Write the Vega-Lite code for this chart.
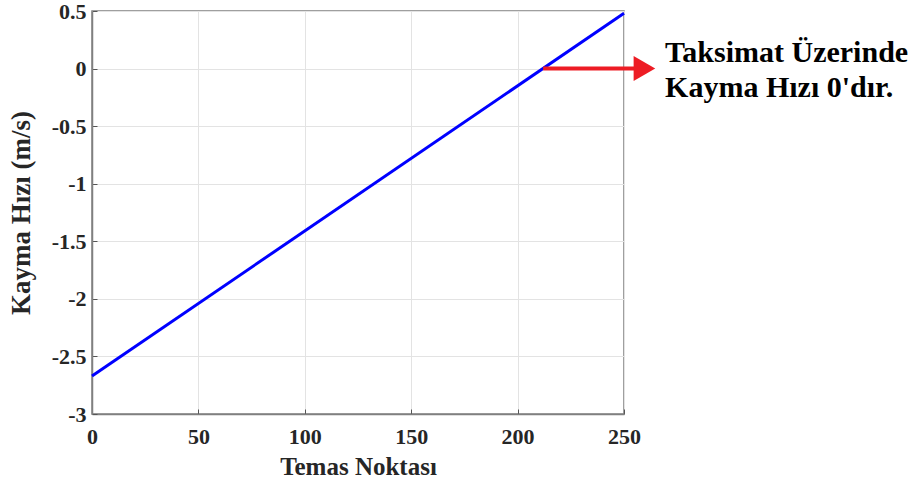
{
  "$schema": "https://vega.github.io/schema/vega-lite/v6.json",
  "width": 532,
  "height": 403,
  "autosize": {"type": "none"},
  "padding": {"left": 92, "top": 11, "right": 298, "bottom": 74},
  "background": "white",
  "config": {
    "font": "Liberation Serif",
    "view": {"stroke": "#808080", "strokeWidth": 1.5},
    "axis": {
      "labelFont": "Liberation Serif",
      "labelFontWeight": "bold",
      "labelFontSize": 22,
      "labelColor": "#262626",
      "labelFlush": false,
      "labelExpr": "'' + datum.value",
      "titleFont": "Liberation Serif",
      "titleFontWeight": "bold",
      "titleColor": "#262626",
      "domainColor": "#808080",
      "domainWidth": 1.5,
      "tickColor": "#555555",
      "tickSize": -5,
      "gridColor": "#e3e3e3",
      "gridWidth": 1
    }
  },
  "datasets": {
    "line": [
      {"x": 0, "y": -2.67},
      {"x": 250, "y": 0.48}
    ],
    "arrow": [
      {"x": 212, "y": 0},
      {"x": 255, "y": 0}
    ],
    "head": [
      {"x": 259.6, "y": 0}
    ],
    "note": [
      {"x": 269.3, "y": 0.057, "t": "Taksimat Üzerinde"},
      {"x": 269.3, "y": -0.247, "t": "Kayma Hızı 0'dır."}
    ]
  },
  "layer": [
    {
      "data": {"name": "line"},
      "mark": {"type": "line", "color": "#0000ff", "strokeWidth": 3},
      "encoding": {
        "x": {
          "field": "x", "type": "quantitative",
          "scale": {"domain": [0, 250], "nice": false},
          "axis": {"values": [0, 50, 100, 150, 200, 250], "title": "Temas Noktası", "titleFontSize": 25, "labelPadding": 17, "titlePadding": 7}
        },
        "y": {
          "field": "y", "type": "quantitative",
          "scale": {"domain": [-3, 0.5], "nice": false, "zero": false},
          "axis": {"values": [-3, -2.5, -2, -1.5, -1, -0.5, 0, 0.5], "title": "Kayma Hızı (m/s)", "titleFontSize": 27, "labelPadding": 11, "titlePadding": 16}
        }
      }
    },
    {
      "data": {"name": "arrow"},
      "mark": {"type": "line", "color": "#ed1c24", "strokeWidth": 4, "clip": false},
      "encoding": {
        "x": {"field": "x", "type": "quantitative"},
        "y": {"field": "y", "type": "quantitative"}
      }
    },
    {
      "data": {"name": "head"},
      "mark": {"type": "point", "shape": "triangle-right", "size": 625, "filled": true, "color": "#ed1c24", "opacity": 1, "clip": false},
      "encoding": {
        "x": {"field": "x", "type": "quantitative"},
        "y": {"field": "y", "type": "quantitative"}
      }
    },
    {
      "data": {"name": "note"},
      "mark": {"type": "text", "align": "left", "baseline": "alphabetic", "font": "Liberation Serif", "fontWeight": "bold", "fontSize": 30, "color": "#000000", "clip": false},
      "encoding": {
        "x": {"field": "x", "type": "quantitative"},
        "y": {"field": "y", "type": "quantitative"},
        "text": {"field": "t"}
      }
    }
  ]
}
